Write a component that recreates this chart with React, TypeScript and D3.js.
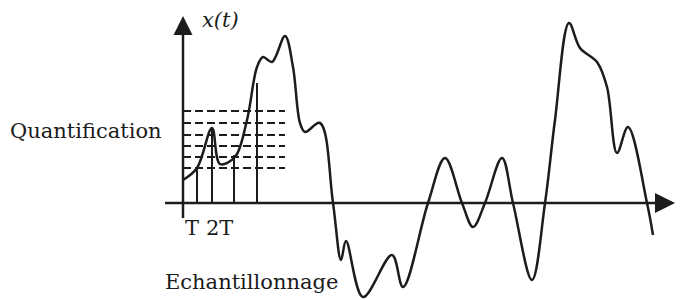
import React, { useRef, useEffect } from "react";
import * as d3 from "d3";

const W = 688;
const H = 300;

// signal x(t) (t: 0..100 along the axis, v: amplitude)
const signalT = [0, 2.8, 5.8, 7.4, 10.4, 12.8, 14.8, 16, 17.8, 20.4, 22, 23.4, 24.4, 27.4, 30, 31.6, 32.6, 36, 41.8, 44, 49, 52.4, 55.8, 58, 60.4, 63.8, 66, 69.8, 72.4, 74.4, 77.2, 79.4, 82.8, 84.8, 86.8, 89, 92.8, 94];
const signalV = [11.5, 17.5, 37.5, 19.5, 23, 41.5, 68, 73, 70.5, 83.5, 68, 40, 35.5, 40, 0, -28.5, -19, -47, -26, -42, 0, 22.5, 0, -12, 0, 22.5, 0, -38.5, 0, 41.5, 90, 77.5, 70.5, 58, 25, 38, 0, -16];

// samples (vertical strokes)
const sampleT = [2.8, 5.8, 10.2, 14.8];
const sampleV = [17.5, 37.5, 24, 60];

// quantification levels (dashed)
const levels = [17.5, 23, 28.5, 34, 40, 46];
const levelEnd = 20.4;

const tickLabels = ["T", "2T"];
const tickT = [0.4, 4.6];

const ink = "#1c1c1c";
const font = "DejaVu Serif";

const App = () => {
    const canvas = useRef(null);
    const svg = useRef(null);

    useEffect(() => {
        if (svg.current) return;

        const x = d3.scaleLinear().domain([0, 100]).range([183, 683]);
        const y = d3.scaleLinear().domain([-50, 100]).range([303, 3]);

        svg.current = d3
            .select(canvas.current)
            .append("svg")
            .attr("width", W)
            .attr("height", H)
            .style("display", "block");

        const g = svg.current.append("g");

        // quantification levels
        g.selectAll("line.level")
            .data(levels)
            .enter()
            .append("line")
            .attr("class", "level")
            .attr("x1", x(0))
            .attr("x2", x(levelEnd))
            .attr("y1", (d) => y(d))
            .attr("y2", (d) => y(d))
            .attr("stroke", ink)
            .attr("stroke-width", 2)
            .attr("stroke-dasharray", "8 4");

        // samples
        g.selectAll("line.sample")
            .data(sampleT)
            .enter()
            .append("line")
            .attr("class", "sample")
            .attr("x1", (d) => x(d))
            .attr("x2", (d) => x(d))
            .attr("y1", y(0))
            .attr("y2", (d, i) => y(sampleV[i]))
            .attr("stroke", ink)
            .attr("stroke-width", 2);

        // axes
        g.append("line")
            .attr("x1", x(-3.6))
            .attr("x2", x(94.6))
            .attr("y1", y(0))
            .attr("y2", y(0))
            .attr("stroke", ink)
            .attr("stroke-width", 2.5);
        g.append("path")
            .attr("d", d3.line()([[x(94.4), y(5)], [x(98.4), y(0)], [x(94.4), y(-5)]]) + "Z")
            .attr("fill", ink);

        g.append("line")
            .attr("x1", x(0))
            .attr("x2", x(0))
            .attr("y1", y(-7.5))
            .attr("y2", y(86))
            .attr("stroke", ink)
            .attr("stroke-width", 2.5);
        g.append("path")
            .attr("d", d3.line()([[x(-1.9), y(84)], [x(0), y(93.5)], [x(1.9), y(84)]]) + "Z")
            .attr("fill", ink);

        // signal
        const line = d3
            .line()
            .x((d) => x(d[0]))
            .y((d) => y(d[1]))
            .curve(d3.curveCatmullRom.alpha(0.5));
        g.append("path")
            .attr("d", line(signalT.map((t, i) => [t, signalV[i]])))
            .attr("fill", "none")
            .attr("stroke", ink)
            .attr("stroke-width", 2.5)
            .attr("stroke-linejoin", "round");

        // labels
        const label = (sel) => sel.attr("font-family", font).attr("fill", ink);

        g.append("text")
            .attr("x", x(3.8))
            .attr("y", 27)
            .attr("font-style", "italic")
            .attr("font-size", 21)
            .call(label)
            .text("x(t)");

        g.append("text")
            .attr("x", 10)
            .attr("y", 138)
            .attr("font-size", 21)
            .call(label)
            .text("Quantification");

        g.selectAll("text.tick")
            .data(tickLabels)
            .enter()
            .append("text")
            .attr("class", "tick")
            .attr("x", (d, i) => x(tickT[i]))
            .attr("y", 235)
            .attr("font-size", 21)
            .call(label)
            .text((d) => d);

        g.append("text")
            .attr("x", 165)
            .attr("y", 289)
            .attr("font-size", 21)
            .call(label)
            .text("Echantillonnage");
    });

    return <div ref={canvas} style={{ position: "absolute", left: 0, top: 0 }}></div>;
};

export default App;
